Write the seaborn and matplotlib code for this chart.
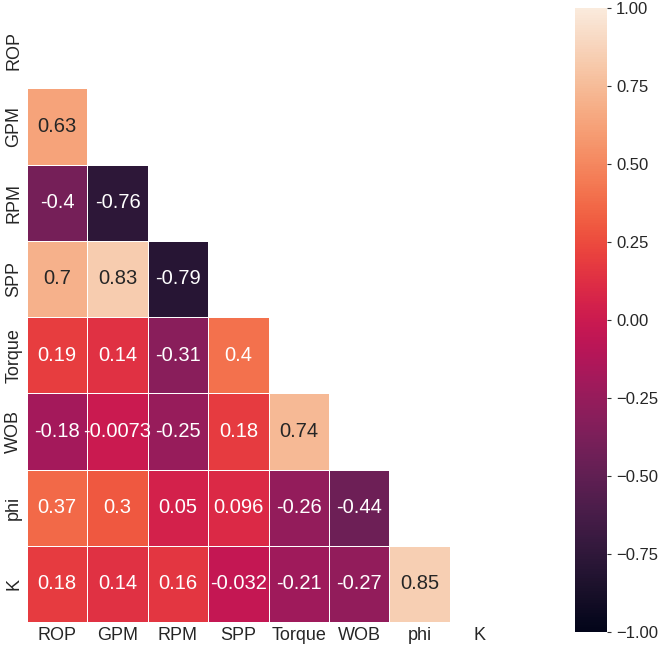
import numpy as np
import pandas as pd
import matplotlib
matplotlib.use("Agg")
import matplotlib.pyplot as plt
import seaborn as sns

sns.set_theme(style="white")
plt.rcParams["font.family"] = ["Liberation Sans", "DejaVu Sans"]

# ------------------------------
# DATA (lower triangle of correlation matrix)
# ------------------------------
labels = ["ROP", "GPM", "RPM", "SPP", "Torque", "WOB", "phi", "K"]

row_gpm = [0.63]
row_rpm = [-0.4, -0.76]
row_spp = [0.7, 0.83, -0.79]
row_torque = [0.19, 0.14, -0.31, 0.4]
row_wob = [-0.18, -0.0073, -0.25, 0.18, 0.74]
row_phi = [0.37, 0.3, 0.05, 0.096, -0.26, -0.44]
row_k = [0.18, 0.14, 0.16, -0.032, -0.21, -0.27, 0.85]

rows = [[], row_gpm, row_rpm, row_spp, row_torque, row_wob, row_phi, row_k]

n = len(labels)
corr = np.eye(n)
for i, r in enumerate(rows):
    for j, v in enumerate(r):
        corr[i, j] = v
        corr[j, i] = v
corr = pd.DataFrame(corr, index=labels, columns=labels)

mask = np.triu(np.ones_like(corr, dtype=bool))

# ------------------------------
# PLOT
# ------------------------------
fig = plt.figure(figsize=(6.64, 6.61), dpi=100)
ax = fig.add_axes([27 / 664, 1 - 622 / 661, 483 / 664, 610 / 661])
cax = fig.add_axes([575 / 664, 1 - 632 / 661, 32 / 664, 624 / 661])

sns.heatmap(
    corr,
    mask=mask,
    annot=True,
    vmin=-1,
    vmax=1,
    linewidths=0.5,
    annot_kws={"size": 14.5},
    ax=ax,
    cbar_ax=cax,
)

ax.tick_params(axis="both", labelsize=13, length=0)
ax.set_xticklabels(labels, rotation=0)
ax.set_yticklabels(labels, rotation=90, va="center")
cax.tick_params(labelsize=12, length=3, width=0.8, color="#333333")
cax.set_yticks([-1, -0.75, -0.5, -0.25, 0, 0.25, 0.5, 0.75, 1])
cax.yaxis.set_major_formatter(matplotlib.ticker.StrMethodFormatter("{x:.2f}"))

fig.savefig("out.png", dpi=100)
